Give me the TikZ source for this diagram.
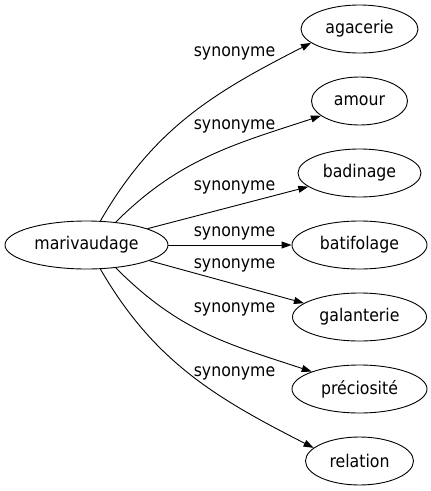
\documentclass[tikz,border=0pt]{standalone}
\usepackage{fontspec}
\setmainfont{DejaVu Sans Condensed}
\usetikzlibrary{arrows.meta,shapes.geometric}
\begin{document}
\begin{tikzpicture}[x=1pt,y=-1pt,
  word/.style={ellipse,draw,line width=0.9pt,inner sep=0pt,minimum height=48pt,font=\fontsize{17.5}{20}\selectfont},
  lab/.style={inner sep=0pt,font=\fontsize{17.5}{20}\selectfont},
  rel/.style={draw,line width=0.9pt,-{Triangle[length=10pt,width=7pt]}}]
\useasboundingbox (0,0) rectangle (431,491);
\node[word,minimum width=163pt] (m) at (86.5,245) {marivaudage};
\node[word,minimum width=117pt] (a) at (359.5,29) {agacerie};
\node[word,minimum width=96pt]  (b) at (359.5,101) {amour};
\node[word,minimum width=123pt] (c) at (359.5,173) {badinage};
\node[word,minimum width=135pt] (d) at (359.5,245) {batifolage};
\node[word,minimum width=134pt] (e) at (359.5,317) {galanterie};
\node[word,minimum width=135pt] (f) at (359.5,389) {préciosité};
\node[word,minimum width=108pt] (g) at (359.5,461) {relation};
\node[lab] (l1) at (234.5,53) {synonyme};
\node[lab] (l2) at (234.5,126) {synonyme};
\node[lab] (l3) at (234.5,187) {synonyme};
\node[lab] (l4) at (234.5,233) {synonyme};
\node[lab] (l5) at (234.5,265) {synonyme};
\node[lab] (l6) at (234.5,309) {synonyme};
\node[lab] (l7) at (234.5,373) {synonyme};
\draw[rel] (m.60) .. controls +(54,-93.5) and +(-96,49) .. (a.196);
\draw[rel] (m.38) .. controls +(64,-64) and +(-85,28) .. (b.201);
\draw[rel] (m.15) -- (c.195);
\draw[rel] (m.east) -- (d.west);
\draw[rel] (m.-14) -- (e.166);
\draw[rel] (m.-38) .. controls +(64,64) and +(-85,-28) .. (f.160);
\draw[rel] (m.-60) .. controls +(54,93.5) and +(-96,-49) .. (g.164);
\end{tikzpicture}
\end{document}
